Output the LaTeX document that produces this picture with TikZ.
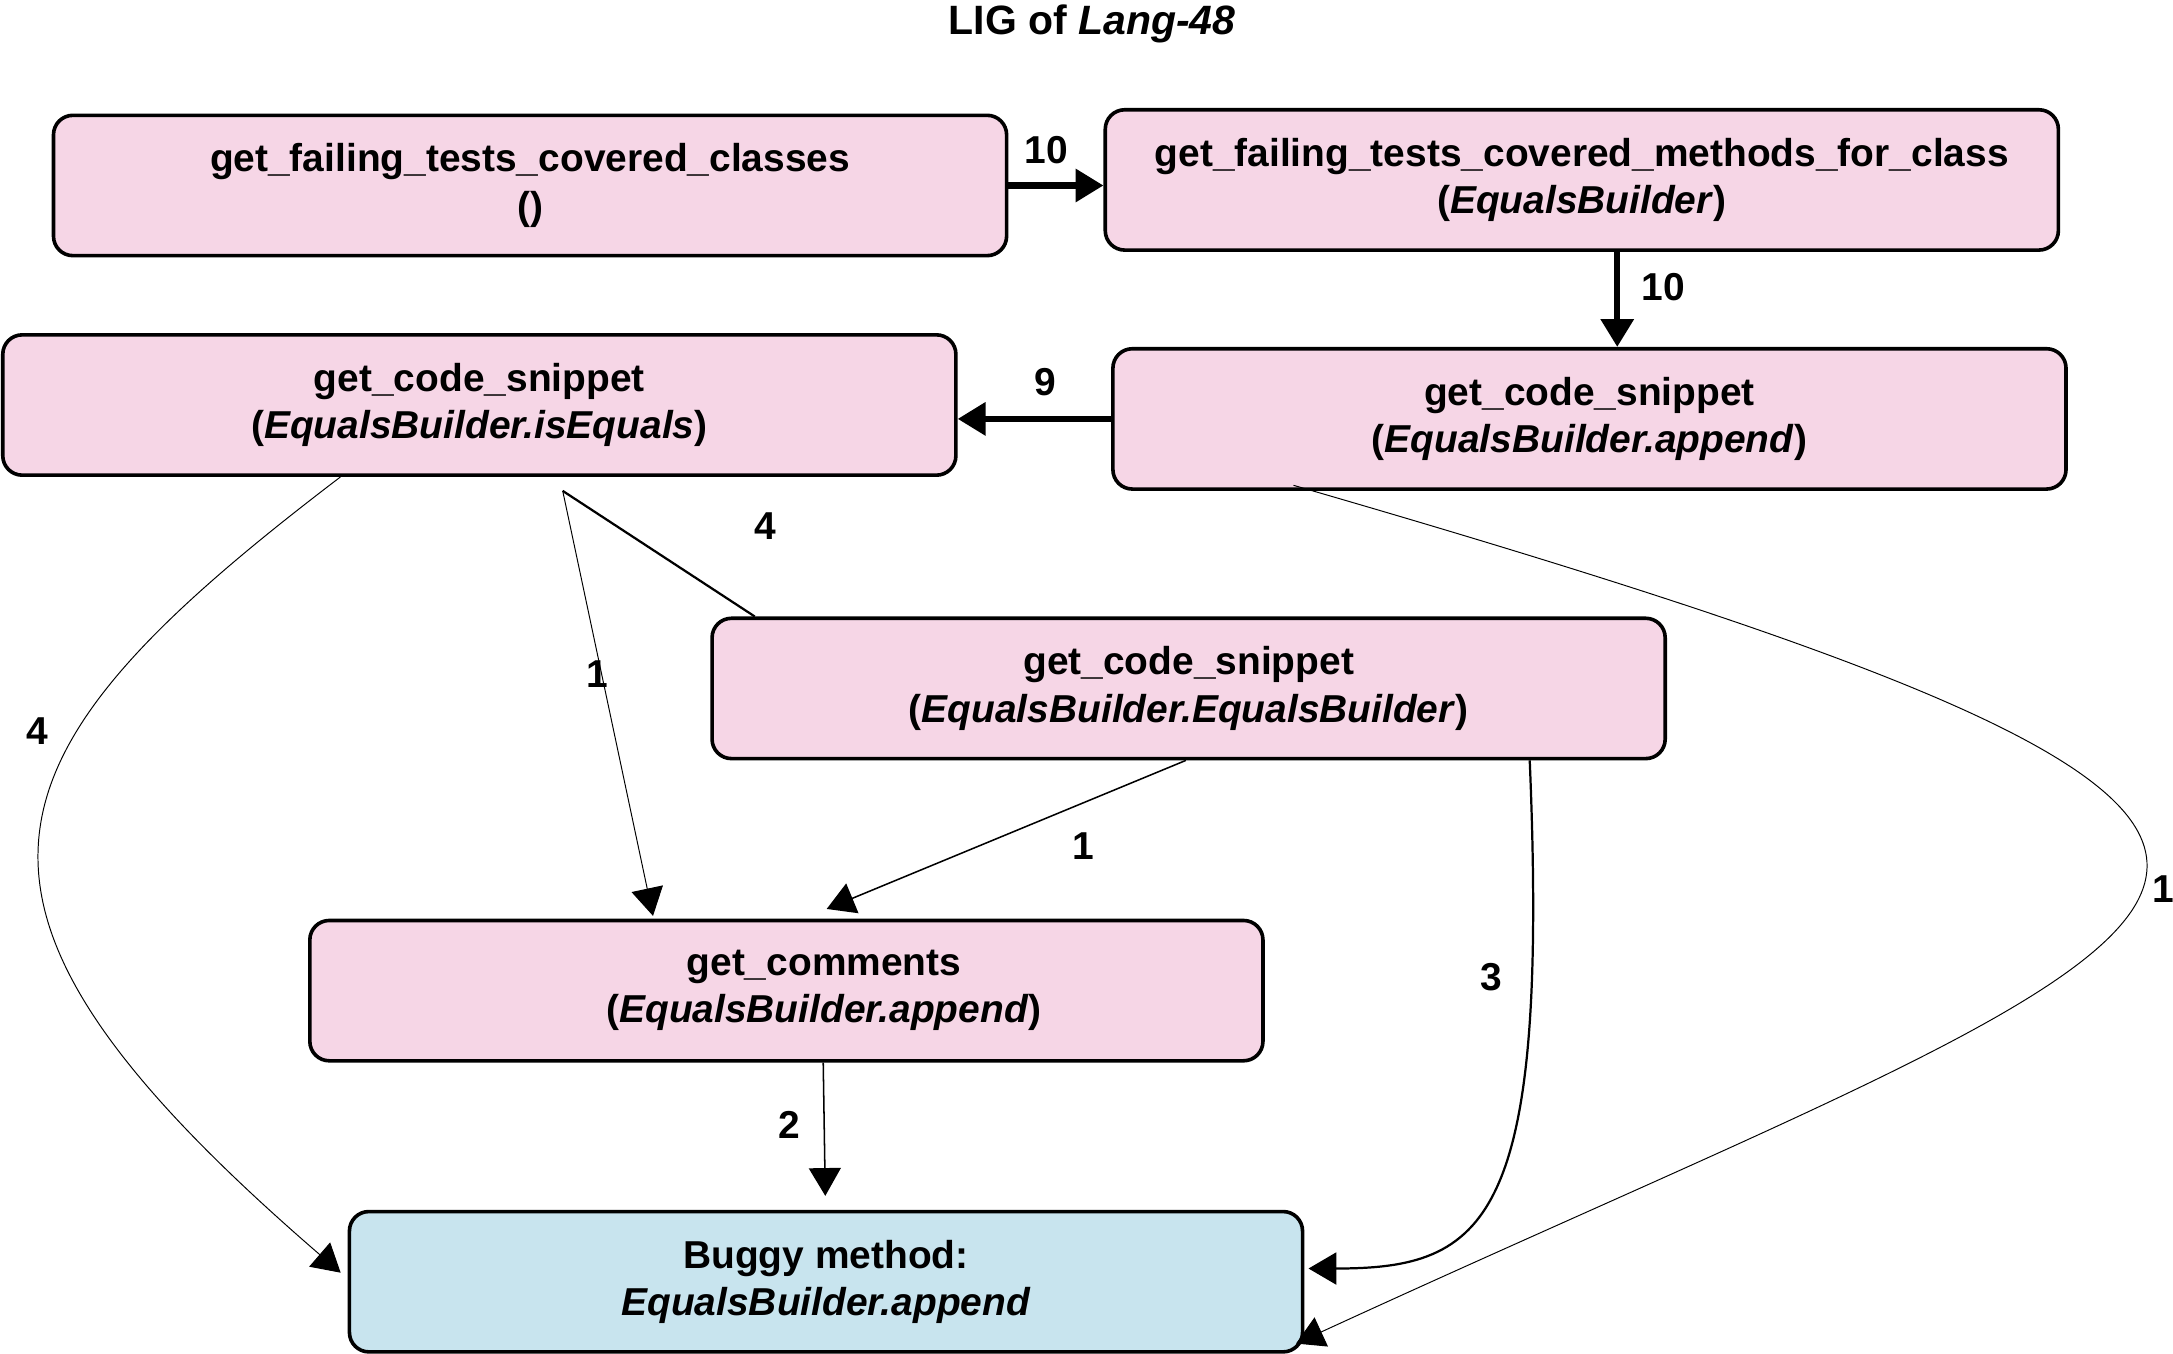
\documentclass[tikz,border=0pt]{standalone}
\usepackage{fontspec}
\setmainfont{Liberation Sans}
\usetikzlibrary{arrows.meta,calc}
\definecolor{pinkbox}{RGB}{246,214,230}
\definecolor{bluebox}{RGB}{200,228,238}
\begin{document}
\begin{tikzpicture}[x=1pt,y=-1pt,
  box/.style={draw=black,line width=2.6pt,rounded corners=14pt,fill=pinkbox,
    minimum width=686pt,minimum height=101pt,inner sep=0pt,align=center,
    font=\fontsize{28}{34}\selectfont\bfseries},
  bluenode/.style={box,fill=bluebox},
  boxtext/.style={align=center,inner sep=0pt,font=\fontsize{28}{34}\selectfont\bfseries},
  lbl/.style={font=\fontsize{28}{34}\selectfont\bfseries,inner sep=0pt},
  tipped/.style={-{Triangle[length=20pt,width=23pt]}},
  heavy/.style={tipped,line width=4.5pt},
  medium/.style={line width=1.6pt},
  light/.style={line width=1.1pt},
  hair/.style={line width=0.7pt}]
\useasboundingbox (0,0) rectangle (1564,974);
\fill[white] (0,0) rectangle (1564,974);

\node[lbl,font=\fontsize{29.5}{34}\selectfont\bfseries] (T) at (786,17) {LIG of \textit{Lang-48}};

\node[box] (A) at (381.5,133.5) {get\_failing\_tests\_covered\_classes\\()};
\node[box] (B) at (1138.5,129.5) {get\_failing\_tests\_covered\_methods\_for\_class\\(\textit{EqualsBuilder})};
\node[box] (C) at (345,291.5) {get\_code\_snippet\\(\textit{EqualsBuilder.isEquals})};
\node[box] (D) at (1144,301.5) {get\_code\_snippet\\(\textit{EqualsBuilder.append})};
\node[box] (E) at (855.5,495.5) {get\_code\_snippet\\(\textit{EqualsBuilder.EqualsBuilder})};
\node[box] (F) at (566,713) {};
\node[boxtext] (Ft) at ($(F.center)+(27,0)$) {get\_comments\\(\textit{EqualsBuilder.append})};
\node[bluenode] (G) at (594.5,922.5) {Buggy method:\\\textit{EqualsBuilder.append}};

% thick edges
\draw[heavy] (A.east) -- (A.east -| B.west);
\coordinate (b1) at ($(B.south)+(25.5,0)$);
\draw[heavy] (b1) -- (b1 |- D.north);
\draw[heavy] (D.west) -- (D.west -| C.east);

% E -> C junction and C -> F
\coordinate (c1) at ($(C.south)+(60,10)$);
\draw[medium] ($(E.north west)+(32,0)$) -- (c1);
\draw[hair,tipped] (c1) -- ($(F.north)+(-96,-2)$);

% E -> F
\draw[light,tipped] ($(E.south)+(-2,0)$) -- ($(F.north)+(29,-7)$);

% F -> G
\draw[light,tipped] ($(F.south)+(26.5,0)$) -- ($(G.north)+(-0.5,-10)$);

% C -> G curve
\draw[hair,tipped] ($(C.south)+(-100,0)$) .. controls (-20,545) and (-64,649) .. ($(G.west)+(-5,-6.5)$);

% D -> G curve
\draw[hair,tipped] ($(D.south)+(-213,-4)$) .. controls (1864,619) and (1622,650) .. ($(G.east)+(-6,44.5)$);

% E -> G curve
\draw[medium,tipped] ($(E.south)+(245.5,0)$) .. controls (1115,880) and (1070,913) .. ($(G.east)+(3,-9.5)$);

% labels
\node[lbl] (l1) at (753,108) {10};
\node[lbl] (l2) at (1197,207) {10};
\node[lbl] (l3) at (752,275) {9};
\node[lbl] (l4) at (551,379) {4};
\node[lbl] (l5) at (430,485) {1};
\node[lbl] (l6) at (27,526) {4};
\node[lbl] (l7) at (780,609) {1};
\node[lbl] (l8) at (1073,703) {3};
\node[lbl] (l9) at (1557,640) {1};
\node[lbl] (l10) at (568,810) {2};
\end{tikzpicture}
\end{document}
